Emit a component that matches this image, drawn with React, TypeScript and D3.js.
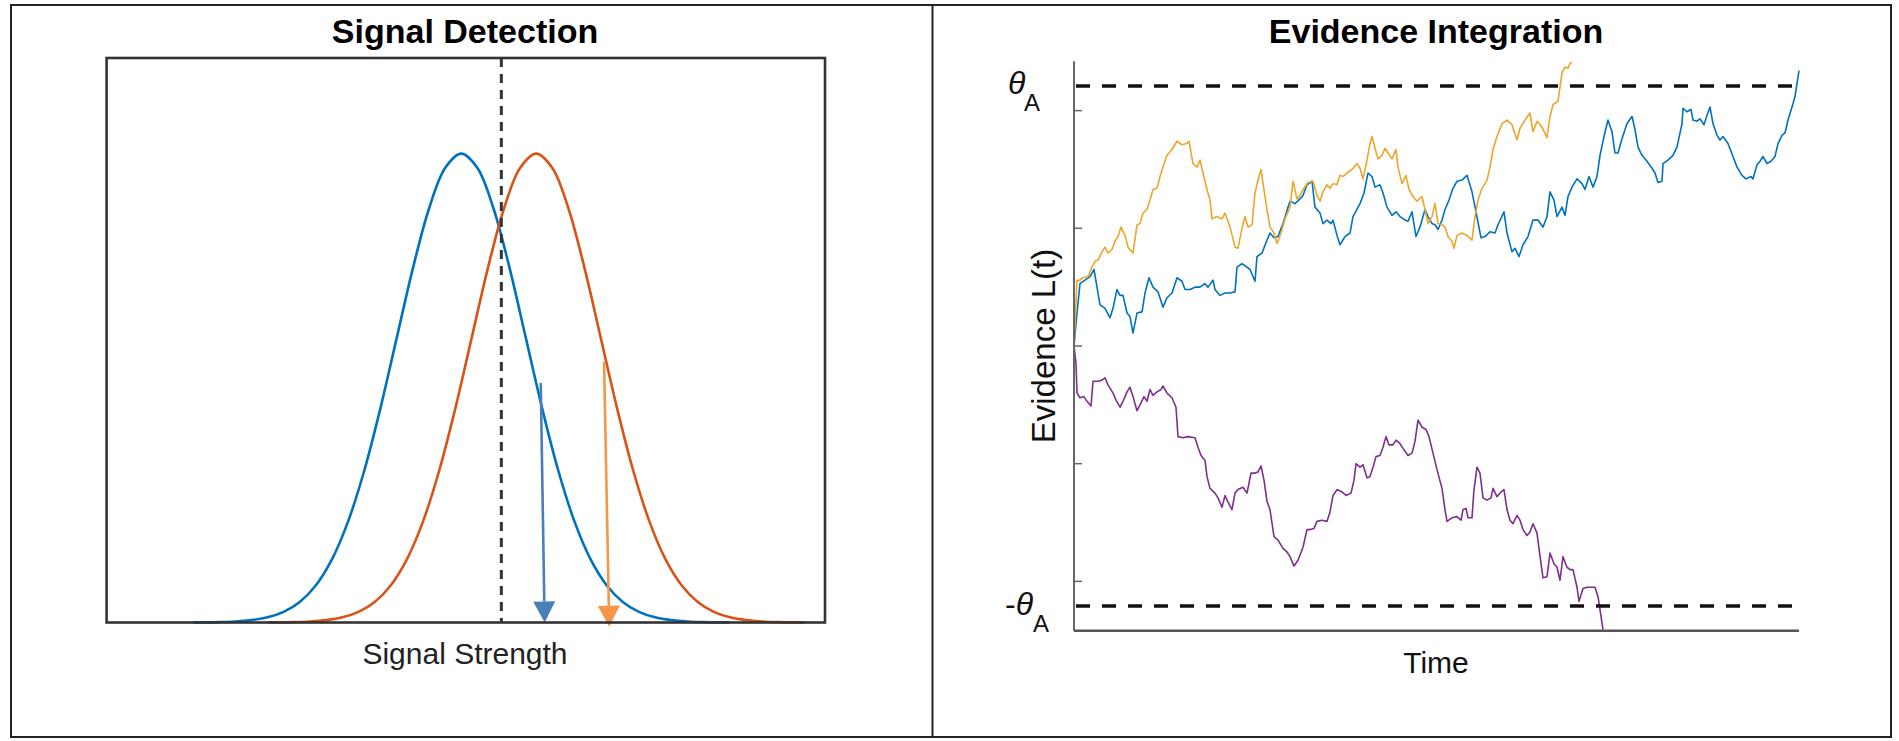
import React from 'react';
import * as d3 from 'd3';

// ---------- Signal Detection panel ----------
// density curve, offsets in SD units from each distribution's mean
const curveOffsets = [
  -4.15, -4, -3.75, -3.5, -3.25, -3, -2.75, -2.5, -2.25, -2, -1.75, -1.5, -1.25, -1, -0.75, -0.5, -0.25,
  0, 0.25, 0.5, 0.75, 1, 1.25, 1.5, 1.75, 2, 2.25, 2.5, 2.75, 3, 3.25, 3.5, 3.75, 4, 4.15,
];
const curveHeights = [
  0.0002, 0.0003, 0.0009, 0.0022, 0.0051, 0.0111, 0.0228, 0.0439, 0.0796, 0.1353, 0.2163, 0.3247, 0.4578, 0.6065, 0.7548, 0.8825, 0.9692,
  1, 0.9692, 0.8825, 0.7548, 0.6065, 0.4578, 0.3247, 0.2163, 0.1353, 0.0796, 0.0439, 0.0228, 0.0111, 0.0051, 0.0022, 0.0009, 0.0003, 0.0002,
];
const distNames = ['noise', 'signal'];
const distMeans = [0, 1.16];
const criterion = 0.62;

// arrows (signal strength, density)
const arrowNames = ['noiseSample', 'signalSample'];
const arrowStartX = [1.23, 2.21];
const arrowStartY = [0.511, 0.556];
const arrowEndX = [1.29, 2.29];
const arrowEndY = [0.0, -0.009];

// ---------- Evidence Integration panel ----------
const yTicks = [-2, -1, 0, 1, 2];
const threshold = 2.21;

// [time, evidence]
const orangeWalk: [number, number][] = [
  [0, 0], [3, 0.56], [4, 0.55], [9, 0.58], [14, 0.59], [18, 0.67], [21, 0.72], [24, 0.73], [28, 0.8], [31, 0.84],
  [34, 0.79], [38, 0.82], [41, 0.89], [44, 0.93], [47, 1.01], [51, 0.94], [54, 0.84], [59, 0.79], [63, 1.03], [66, 1.04],
  [69, 1.13], [73, 1.16], [76, 1.24], [79, 1.33], [83, 1.34], [86, 1.44], [89, 1.52], [93, 1.62], [98, 1.67], [103, 1.74],
  [108, 1.71], [113, 1.72], [115, 1.74], [119, 1.55], [123, 1.52], [126, 1.58], [129, 1.47], [133, 1.33], [136, 1.24], [138, 1.08],
  [143, 1.1], [148, 1.08], [151, 1.13], [156, 1.01], [161, 0.84], [164, 0.83], [168, 1.0], [171, 1.1], [174, 1.01], [178, 1.03],
  [181, 1.3], [184, 1.41], [187, 1.5], [189, 1.38], [193, 1.16], [196, 1.01], [200, 0.96], [203, 0.87], [207, 0.96], [211, 1.08],
  [216, 1.18], [219, 1.4], [223, 1.25], [226, 1.28], [229, 1.33], [234, 1.39], [239, 1.4], [243, 1.28], [246, 1.23], [249, 1.31],
  [253, 1.37], [256, 1.34], [259, 1.38], [263, 1.37], [266, 1.45], [269, 1.44], [273, 1.47], [278, 1.5], [283, 1.55], [286, 1.51],
  [289, 1.42], [293, 1.58], [296, 1.72], [298, 1.78], [301, 1.68], [304, 1.59], [308, 1.62], [311, 1.68], [314, 1.64], [318, 1.59],
  [322, 1.67], [324, 1.52], [328, 1.38], [332, 1.45], [335, 1.33], [339, 1.27], [343, 1.23], [348, 1.27], [351, 1.16], [354, 1.04],
  [358, 1.1], [361, 1.21], [364, 1.04], [368, 1.03], [371, 1.01], [374, 0.93], [378, 0.89], [380, 0.83], [383, 0.94], [388, 0.96],
  [393, 0.94], [398, 0.9], [401, 1.1], [404, 1.24], [408, 1.34], [413, 1.41], [416, 1.52], [419, 1.67], [423, 1.78], [428, 1.89],
  [433, 1.92], [438, 1.88], [443, 1.75], [446, 1.85], [451, 1.92], [456, 1.98], [459, 1.82], [463, 1.91], [468, 1.86], [473, 1.77],
  [476, 1.95], [479, 2.05], [484, 2.08], [486, 2.2], [488, 2.32], [491, 2.37], [494, 2.36], [496, 2.4], [498, 2.41],
];

const blueWalk: [number, number][] = [
  [0, 0], [3, 0.28], [6, 0.53], [11, 0.56], [16, 0.59], [20, 0.65], [23, 0.5], [26, 0.35], [31, 0.32], [36, 0.24],
  [39, 0.32], [43, 0.48], [46, 0.43], [49, 0.43], [53, 0.28], [56, 0.25], [59, 0.11], [63, 0.28], [68, 0.29], [71, 0.45],
  [75, 0.58], [79, 0.5], [84, 0.46], [89, 0.33], [93, 0.41], [98, 0.45], [103, 0.58], [108, 0.55], [111, 0.48], [116, 0.48],
  [121, 0.5], [126, 0.5], [131, 0.53], [134, 0.5], [139, 0.56], [141, 0.48], [146, 0.43], [151, 0.45], [156, 0.45], [161, 0.46],
  [163, 0.67], [168, 0.7], [173, 0.67], [176, 0.65], [181, 0.55], [183, 0.76], [188, 0.79], [193, 0.9], [196, 0.96], [200, 0.92],
  [204, 0.93], [209, 1.04], [214, 1.18], [216, 1.23], [221, 1.21], [226, 1.25], [229, 1.28], [233, 1.37], [238, 1.4], [241, 1.18],
  [246, 1.13], [249, 1.04], [253, 1.07], [257, 1.04], [259, 1.07], [263, 0.94], [266, 0.86], [271, 0.93], [276, 0.96], [279, 1.1],
  [286, 1.21], [290, 1.3], [294, 1.47], [298, 1.44], [301, 1.35], [306, 1.37], [309, 1.3], [313, 1.18], [318, 1.11], [322, 1.14],
  [326, 1.1], [331, 1.07], [334, 1.06], [338, 1.14], [342, 0.93], [346, 1.01], [351, 1.16], [354, 1.1], [358, 1.04], [361, 1.03],
  [364, 0.99], [368, 1.07], [371, 1.16], [375, 1.24], [379, 1.34], [383, 1.4], [388, 1.41], [393, 1.45], [398, 1.31], [402, 1.14],
  [407, 0.92], [411, 0.93], [416, 0.97], [421, 0.96], [424, 1.03], [430, 1.14], [433, 0.96], [438, 0.8], [441, 0.83], [445, 0.76],
  [449, 0.86], [454, 0.93], [459, 1.07], [464, 1.07], [469, 1.01], [473, 1.1], [476, 1.31], [480, 1.24], [483, 1.1], [488, 1.18],
  [491, 1.11], [494, 1.27], [498, 1.35], [503, 1.42], [508, 1.38], [511, 1.33], [515, 1.44], [519, 1.35], [523, 1.44], [526, 1.62],
  [530, 1.78], [534, 1.92], [538, 1.82], [541, 1.64], [544, 1.64], [548, 1.76], [553, 1.89], [558, 1.95], [561, 1.84], [564, 1.69],
  [568, 1.62], [573, 1.57], [578, 1.51], [581, 1.47], [584, 1.39], [588, 1.4], [589, 1.55], [594, 1.58], [599, 1.62], [603, 1.69],
  [608, 1.89], [609, 2.02], [613, 1.99], [617, 2.01], [619, 1.92], [623, 1.91], [626, 1.93], [630, 1.88], [633, 1.96], [636, 2.03],
  [639, 1.89], [643, 1.79], [646, 1.75], [649, 1.78], [654, 1.72], [659, 1.61], [663, 1.52], [668, 1.45], [672, 1.42], [677, 1.44],
  [679, 1.42], [683, 1.54], [686, 1.57], [689, 1.61], [693, 1.55], [697, 1.57], [701, 1.61], [704, 1.72], [708, 1.79], [711, 1.81],
  [714, 1.92], [718, 2.03], [721, 2.12], [723, 2.23], [725, 2.34],
];

const purpleWalk: [number, number][] = [
  [0, 0], [2, -0.15], [3, -0.4], [6, -0.44], [10, -0.43], [13, -0.47], [17, -0.51], [19, -0.3], [24, -0.3], [28, -0.29],
  [31, -0.27], [34, -0.33], [39, -0.4], [42, -0.46], [46, -0.52], [49, -0.47], [53, -0.39], [56, -0.35], [59, -0.43], [63, -0.55],
  [66, -0.5], [70, -0.43], [73, -0.47], [76, -0.37], [79, -0.42], [83, -0.39], [87, -0.37], [89, -0.34], [93, -0.4], [98, -0.44],
  [102, -0.52], [104, -0.77], [109, -0.78], [114, -0.77], [121, -0.78], [124, -0.86], [127, -0.93], [131, -0.97], [133, -1.11], [136, -1.21],
  [141, -1.25], [144, -1.29], [148, -1.37], [151, -1.27], [153, -1.31], [158, -1.39], [161, -1.25], [164, -1.22], [169, -1.2], [173, -1.25],
  [177, -1.08], [181, -1.08], [184, -1.07], [187, -1.02], [190, -1.14], [193, -1.32], [196, -1.39], [200, -1.62], [204, -1.65], [209, -1.72],
  [213, -1.75], [216, -1.79], [220, -1.87], [224, -1.82], [229, -1.71], [233, -1.56], [236, -1.56], [240, -1.55], [243, -1.49], [248, -1.48],
  [253, -1.49], [256, -1.41], [259, -1.27], [263, -1.22], [268, -1.24], [272, -1.27], [277, -1.25], [280, -1.14], [282, -1.0], [286, -1.03],
  [289, -1.01], [293, -1.12], [296, -1.11], [299, -1.03], [302, -0.94], [306, -0.93], [309, -0.86], [312, -0.77], [315, -0.84], [319, -0.84],
  [322, -0.8], [326, -0.83], [329, -0.87], [334, -0.93], [338, -0.91], [341, -0.81], [344, -0.63], [348, -0.69], [352, -0.71], [355, -0.77],
  [359, -0.91], [363, -1.05], [368, -1.21], [371, -1.39], [373, -1.49], [378, -1.46], [383, -1.45], [387, -1.48], [389, -1.39], [392, -1.38],
  [394, -1.46], [398, -1.46], [400, -1.22], [403, -1.03], [406, -1.08], [409, -1.29], [413, -1.31], [417, -1.29], [419, -1.21], [423, -1.28],
  [427, -1.24], [430, -1.22], [433, -1.39], [436, -1.48], [439, -1.51], [443, -1.44], [446, -1.48], [449, -1.56], [453, -1.61], [456, -1.58],
  [459, -1.51], [463, -1.59], [467, -1.85], [469, -1.97], [473, -1.96], [476, -1.76], [480, -1.85], [483, -1.88], [486, -1.99], [489, -1.79],
  [493, -1.88], [496, -1.9], [499, -1.9], [503, -2.05], [505, -2.17], [509, -2.06], [513, -2.05], [518, -2.05], [521, -2.05], [524, -2.13],
  [526, -2.24], [529, -2.41],
];

const FONT = '"Liberation Sans", Arial, Helvetica, sans-serif';
const distColors: Record<string, string> = { noise: '#0072BD', signal: '#D95319' };
const arrowColors: Record<string, string> = { noiseSample: '#4A7EBB', signalSample: '#F79646' };

export default function App() {
  // left panel scales
  const xL = d3.scaleLinear().domain([-5.49, 5.63]).range([106.6, 825]);
  const yL = d3.scaleLinear().domain([0, 1.204]).range([622.5, 58]);
  const densityLine = d3.line<[number, number]>()
    .x(d => xL(d[0]))
    .y(d => yL(d[1]))
    .curve(d3.curveCatmullRom);

  // right panel scales
  const xR = d3.scaleLinear().domain([0, 725]).range([1074, 1799]);
  const yR = d3.scaleLinear().domain([-2.42, 2.42]).range([630.8, 61.2]);
  const walkLine = d3.line<[number, number]>()
    .x(d => xR(d[0]))
    .y(d => yR(d[1]));

  const walks = [
    { key: 'blue', data: blueWalk, color: '#0072BD' },
    { key: 'orange', data: orangeWalk, color: '#EDA62A' },
    { key: 'purple', data: purpleWalk, color: '#7E2F8E' },
  ];

  const arrows = arrowNames.map((name, i) => {
    const x0 = xL(arrowStartX[i]), y0 = yL(arrowStartY[i]);
    const x1 = xL(arrowEndX[i]), y1 = yL(arrowEndY[i]);
    const len = Math.hypot(x1 - x0, y1 - y0);
    const ux = (x1 - x0) / len, uy = (y1 - y0) / len;
    const headLen = 21, headHalf = 11;
    const bx = x1 - ux * headLen, by = y1 - uy * headLen;
    const pts = [
      [x1, y1],
      [bx - uy * headHalf, by + ux * headHalf],
      [bx + uy * headHalf, by - ux * headHalf],
    ];
    return { name, x0, y0, bx, by, pts };
  });

  return (
    <div style={{ position: 'absolute', left: 0, top: 0 }}>
      <svg width={1899} height={741} style={{ display: 'block', background: '#fff' }} fontFamily={FONT}>
        {/* outer frame */}
        <rect x={11} y={5} width={1880} height={732} fill="none" stroke="#222" strokeWidth={2} />
        <line x1={932.5} x2={932.5} y1={5} y2={737} stroke="#222" strokeWidth={2} />

        {/* Signal Detection */}
        <text x={465} y={43} textAnchor="middle" fontSize={34} fontWeight="bold" fill="#000">Signal Detection</text>
        {distNames.map((name, i) => (
          <path
            key={name}
            d={densityLine(curveOffsets.map((o, j) => [distMeans[i] + o, curveHeights[j]] as [number, number])) || ''}
            fill="none"
            stroke={distColors[name]}
            strokeWidth={2.6}
          />
        ))}
        <line
          x1={xL(criterion)} x2={xL(criterion)} y1={yL.range()[1]} y2={yL.range()[0]}
          stroke="#333" strokeWidth={3} strokeDasharray="9 7"
        />
        {arrows.map(a => (
          <g key={a.name}>
            <line x1={a.x0} y1={a.y0} x2={a.bx} y2={a.by} stroke={arrowColors[a.name]} strokeWidth={2.6} />
            <polygon points={a.pts.map(p => p.join(',')).join(' ')} fill={arrowColors[a.name]} />
          </g>
        ))}
        <rect
          x={xL.range()[0]} y={yL.range()[1]}
          width={xL.range()[1] - xL.range()[0]} height={yL.range()[0] - yL.range()[1]}
          fill="none" stroke="#333" strokeWidth={2.6}
        />
        <text x={465} y={664} textAnchor="middle" fontSize={30} fill="#222">Signal Strength</text>

        {/* Evidence Integration */}
        <text x={1436} y={43} textAnchor="middle" fontSize={34} fontWeight="bold" fill="#000">Evidence Integration</text>
        {walks.map(w => (
          <path key={w.key} d={walkLine(w.data) || ''} fill="none" stroke={w.color} strokeWidth={1.6} strokeLinejoin="round" />
        ))}
        {[threshold, -threshold].map(t => (
          <line
            key={t}
            x1={xR(0) + 2} x2={xR.range()[1]} y1={yR(t)} y2={yR(t)}
            stroke="#111" strokeWidth={3.5} strokeDasharray="14 12"
          />
        ))}
        <line x1={xR(0)} x2={xR(0)} y1={yR.range()[1]} y2={yR.range()[0]} stroke="#666" strokeWidth={2} />
        <line x1={xR(0)} x2={xR.range()[1]} y1={yR.range()[0]} y2={yR.range()[0]} stroke="#555" strokeWidth={2.4} />
        {yTicks.map(t => (
          <line key={t} x1={xR(0)} x2={xR(0) + 8} y1={yR(t)} y2={yR(t)} stroke="#666" strokeWidth={1.5} />
        ))}
        <text x={1008} y={94} fontSize={32} fontStyle="italic" fill="#111">θ</text>
        <text x={1024} y={111} fontSize={24} fill="#111">A</text>
        <text x={1005} y={615} fontSize={32} fill="#111">-<tspan fontStyle="italic">θ</tspan></text>
        <text x={1033} y={632} fontSize={24} fill="#111">A</text>
        <text
          transform={`translate(1055, ${yR(0)}) rotate(-90)`}
          textAnchor="middle" fontSize={33} fill="#111"
        >Evidence L(t)</text>
        <text x={1436} y={673} textAnchor="middle" fontSize={30} fill="#111">Time</text>
      </svg>
    </div>
  );
}
